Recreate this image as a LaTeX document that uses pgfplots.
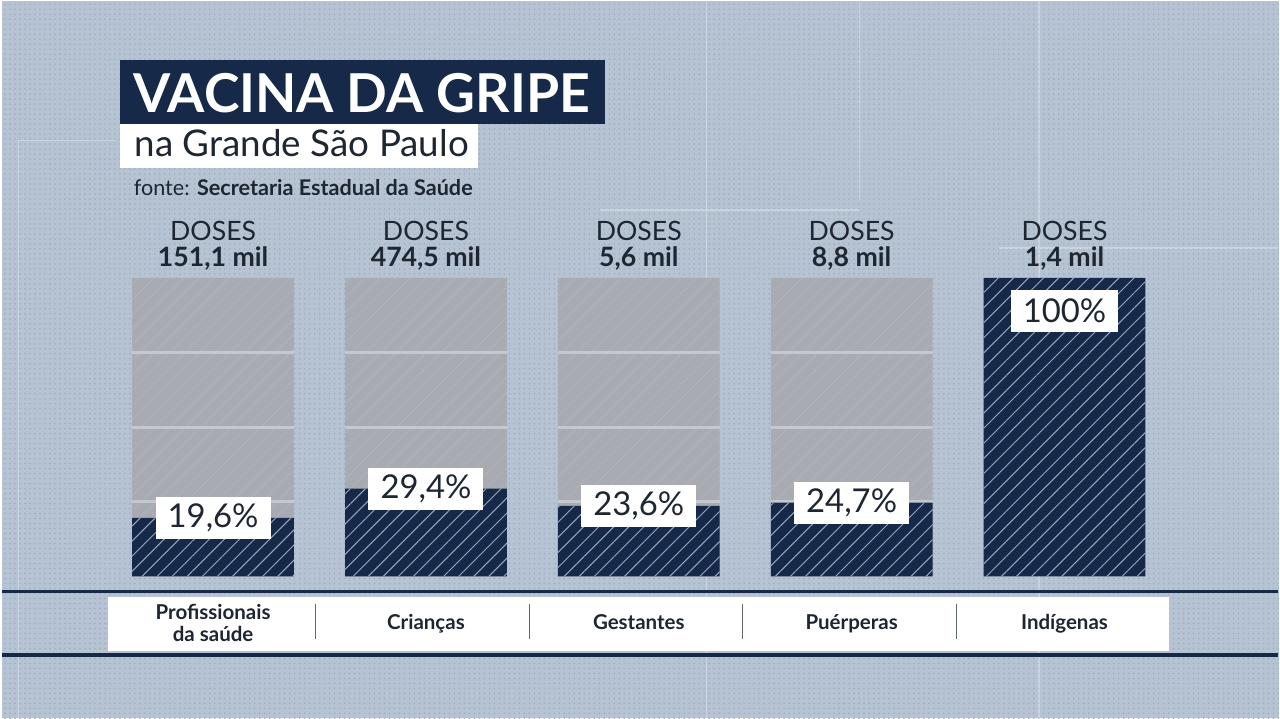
\documentclass[border=0pt]{standalone}
\usepackage{pgfplots}
\pgfplotsset{compat=1.18}
\usetikzlibrary{patterns.meta}
\usepackage{fontspec}
\setmainfont{Lato}

\definecolor{bg}{RGB}{181,195,211}
\definecolor{dotc}{RGB}{160,174,192}
\definecolor{bargray}{RGB}{168,172,178}
\definecolor{barhatch}{RGB}{176,180,186}
\definecolor{sepc}{RGB}{196,201,208}
\definecolor{navy}{RGB}{22,41,72}
\definecolor{hatchc}{RGB}{150,168,192}
\definecolor{txt}{RGB}{30,38,50}

\begin{document}
\begin{tikzpicture}
% background with dot grid
\fill[bg] (0,0) rectangle (16cm,8.9875cm);
\fill[pattern={Dots[distance=1.78pt,radius=0.33pt]}, pattern color=dotc] (0,0) rectangle (16cm,8.9875cm);

% pixel frame: origin top left
\begin{scope}[x=0.0125cm, y=-0.0125cm, yshift=8.9875cm]
  \draw[white, opacity=0.3, line width=0.4pt]
    (707,0) -- (707,719) (860,0) -- (860,200) (1040,0) -- (1040,719)
    (600,210) -- (860,210) (1000,248) -- (1280,248)
    (17,140) -- (17,719) (17,140) -- (115,140);
  % label band
  \fill[white] (107,598) rectangle (1170,652);
  \draw[navy, line width=1.1pt] (0,592) -- (1280,592);
  \draw[navy, line width=1.1pt] (0,656) -- (1280,656);
  \draw[txt!70, line width=0.5pt]
    (315,605) -- (315,640) (529,605) -- (529,640)
    (743,605) -- (743,640) (957,605) -- (957,640);
\end{scope}

\begin{axis}[
    at={(0,0)}, anchor=south west,
    scale only axis,
    width=16cm, height=8.9875cm,
    xmin=-0.994, xmax=5.007,
    ymin=-47.49, ymax=192.98,
    axis lines=none,
    ticks=none,
]
% full-height grey bars (100 %)
\addplot[ybar, bar width=0.76, bar shift=0pt, fill=bargray, draw=none,
    postaction={pattern={Lines[angle=45,distance=3.8pt,line width=0.3pt]}, pattern color=barhatch}]
    coordinates {(0,100) (1,100) (2,100) (3,100)};
\pgfplotsinvokeforeach{25,50,75}{
  \draw[sepc, line width=1.1pt]
    (axis cs:-0.38,#1) -- (axis cs:0.38,#1)
    (axis cs:0.62,#1) -- (axis cs:1.38,#1)
    (axis cs:1.62,#1) -- (axis cs:2.38,#1)
    (axis cs:2.62,#1) -- (axis cs:3.38,#1);
}
% vaccinated share
\addplot[ybar, bar width=0.76, bar shift=0pt, fill=navy, draw=none,
    postaction={pattern={Lines[angle=45,distance=3.8pt,line width=0.35pt]}, pattern color=hatchc}]
    coordinates {(0,19.6) (1,29.4) (2,23.6) (3,24.7) (4,100)};

% percentage boxes
\addplot[draw=none, mark=none, point meta=explicit symbolic,
    nodes near coords,
    nodes near coords style={anchor=center, fill=white, text=txt,
        inner xsep=4.3pt, inner ysep=0pt, minimum height=15pt,
        font=\fontsize{11.7}{12}\selectfont}]
    coordinates {(0,19.6)[19,6\%] (1,29.4)[29,4\%] (2,23.6)[23,6\%]
                 (3,24.7)[24,7\%] (4,89)[100\%]};

% doses above bars
\addplot[draw=none, mark=none, point meta=explicit symbolic,
    nodes near coords={DOSES\\\textbf{\pgfplotspointmeta}},
    nodes near coords style={anchor=south, align=center, text=txt,
        inner sep=0pt, yshift=2.6pt,
        font=\fontsize{9.5}{9.3}\selectfont}]
    coordinates {(0,100)[151,1 mil] (1,100)[474,5 mil] (2,100)[5,6 mil]
                 (3,100)[8,8 mil] (4,100)[1,4 mil]};

% category names
\tikzset{catlab/.style={align=center, text=txt, inner sep=0pt, font=\fontsize{7.3}{7.9}\selectfont\bfseries}}
\node[catlab] at (axis cs:0,-15.6) {Profissionais\\da saúde};
\node[catlab, anchor=base] at (axis cs:1,-17.7) {Crianças};
\node[catlab, anchor=base] at (axis cs:2,-17.9) {Gestantes};
\node[catlab, anchor=base] at (axis cs:3,-17.9) {Puérperas};
\node[catlab, anchor=base] at (axis cs:4,-17.9) {Indígenas};
\end{axis}

% title block
\begin{scope}[x=0.0125cm, y=-0.0125cm, yshift=8.9875cm]
  \fill[navy] (119,60) rectangle (605,124);
  \node[anchor=base west, inner sep=0pt, text=white,
        font=\fontsize{19.1}{20}\selectfont\bfseries] at (132,112) {VACINA DA GRIPE};
  \fill[white] (119,124) rectangle (478,168);
  \node[anchor=base west, inner sep=0pt, text=txt,
        font=\fontsize{13.1}{14}\selectfont] at (133,156) {na Grande São Paulo};
  \node[anchor=base west, inner sep=0pt, text=txt,
        font=\fontsize{7.7}{8}\selectfont] at (132,195) {fonte: \textbf{Secretaria Estadual da Saúde}};
\end{scope}
\end{tikzpicture}
\end{document}
